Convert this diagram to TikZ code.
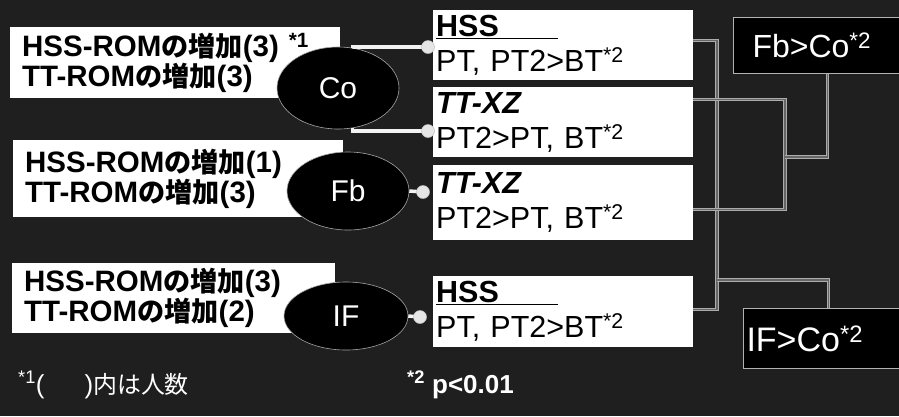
\documentclass[tikz,border=0pt]{standalone}
\usepackage{fontspec}
\setmainfont{Liberation Sans}
\newfontfamily\jpfont{Noto Sans CJK JP}[Scale=0.92]
\usetikzlibrary{shapes.geometric}
\newcommand{\ja}[1]{{\jpfont #1}}
\newcommand{\startwo}{\textsuperscript{*2}}

\tikzset{
  leftbox/.style={fill=white, anchor=north west, inner xsep=12pt, inner ysep=0pt,
    align=left, font=\fontsize{29.5}{30}\selectfont\bfseries},
  resbox/.style={fill=white, anchor=north west, text width=254pt, inner xsep=3pt,
    inner ysep=0pt, minimum height=70pt, align=left, font=\fontsize{30.5}{35}\selectfont},
  group/.style={ellipse, fill=black, draw=gray!70, line width=0.6pt, text=white,
    inner sep=0pt, font=\fontsize{30}{32}\selectfont},
  verdict/.style={fill=black, draw=gray!60, line width=1pt, anchor=north west,
    align=left, text=white, inner ysep=0pt},
  stem/.style={draw=gray!10, line width=3.5pt},
  knob/.style={fill=gray!20, draw=gray!50, line width=0.5pt},
  link/.style={draw=gray!65, line width=0.9pt, double=black!60, double distance=1.4pt},
  note/.style={text=white, anchor=base west, inner sep=0pt, font=\fontsize{26}{28}\selectfont}
}

\begin{document}
\begin{tikzpicture}[x=1pt, y=-1pt]
\useasboundingbox (0,0) rectangle (899,416);
\fill[black!88] (0,0) rectangle (899,416);

% left: subjects per group
\node[leftbox, text width=306pt, minimum height=71pt] (incCo) at (10,27)
  {HSS-ROM\ja{の増加}(3) \textsuperscript{*1}\\TT-ROM\ja{の増加}(3)};
\node[leftbox, text width=306pt, minimum height=77pt] (incFb) at (13,140)
  {HSS-ROM\ja{の増加}(1)\\TT-ROM\ja{の増加}(3)};
\node[leftbox, text width=299pt, minimum height=70pt] (incIF) at (12,263)
  {HSS-ROM\ja{の増加}(3)\\TT-ROM\ja{の増加}(2)};

% groups
\node[group, minimum width=122pt, minimum height=82pt] (Co) at (338,88) {Co};
\node[group, minimum width=122pt, minimum height=78pt] (Fb) at (348,191) {Fb};
\node[group, minimum width=124pt, minimum height=68pt] (IF) at (346,316) {IF};

% middle: results
\node[resbox] (hssCo) at (433,10)
  {\textbf{\underline{\makebox[122pt][l]{HSS}}}\\PT, PT2>BT\startwo};
\node[resbox] (ttCo) at (433,87)
  {\textbf{\textit{TT-XZ}}\\PT2>PT, BT\startwo};
\node[resbox, minimum height=75pt] (ttFb) at (433,165)
  {\textbf{\textit{TT-XZ}}\\PT2>PT, BT\startwo};
\node[resbox, minimum height=71pt] (hssIF) at (433,276)
  {\textbf{\underline{\makebox[122pt][l]{HSS}}}\\PT, PT2>BT\startwo};

% right: comparisons
\node[verdict, text width=150pt, inner xsep=19pt, minimum height=56pt,
  font=\fontsize{32}{34}\selectfont] (FbCo) at (733,17) {Fb>Co\startwo};
\node[verdict, text width=164pt, inner xsep=3pt, minimum height=60pt,
  font=\fontsize{34}{36}\selectfont] (IFCo) at (743,308) {IF>Co\startwo};

% stems from the groups
\coordinate (kA) at (428,47);
\coordinate (kB) at (428,131);
\coordinate (kC) at (423,192);
\coordinate (kD) at (420,317);
\draw[stem] (Co.70) |- (kA);
\draw[stem] (Co.-70) |- (kB);
\draw[stem] (Fb.east) -- (kC);
\draw[stem] (IF.east) -- (kD);
\foreach \k in {kA,kB,kC,kD}
  \draw[knob] (\k) circle (6.5pt);

% brackets
\coordinate (jAD) at (717,174);
\coordinate (jBC) at (785,157);
\coordinate (jIF) at (717,280);
\draw[link] (hssCo.2) -| (jAD) |- (hssIF.1);
\draw[link] (ttCo.10) -| (jBC) |- (ttFb.-3);
\draw[link] (jBC) -| (FbCo.south);
\draw[link] (jIF) -| (IFCo.north);

% notes
\node[note] (fnA) at (18,393)
  {\textsuperscript{*1}(\hspace{40pt})\ja{内は人数}};
\node[note, font=\fontsize{26}{28}\selectfont\bfseries] (fnB) at (407,393)
  {\textsuperscript{*2} p<0.01};
\end{tikzpicture}
\end{document}
